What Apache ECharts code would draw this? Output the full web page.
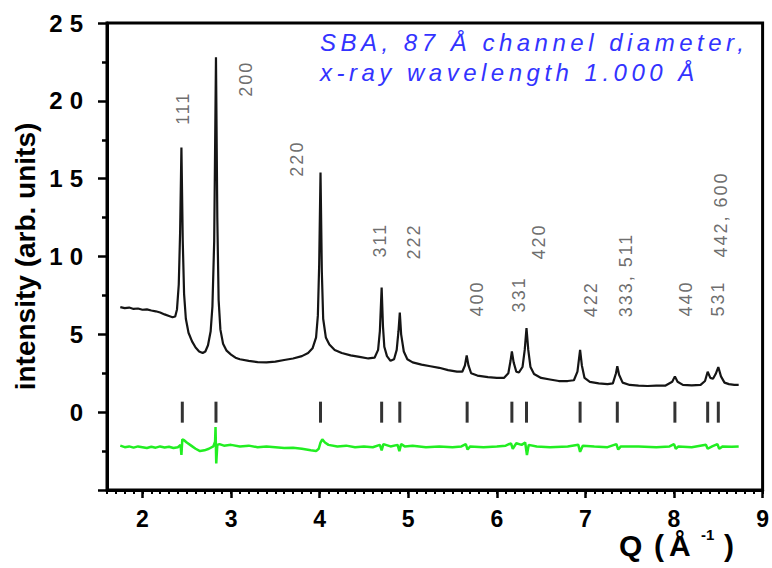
<!DOCTYPE html>
<html>
<head>
<meta charset="utf-8">
<script src="https://cdn.jsdelivr.net/npm/echarts@6/dist/echarts.min.js"></script>
<style>
    html, body { margin: 0; padding: 0; background: #fff; }
    #chart { width: 772px; height: 568px; }
    /* the original figure spreads its letters out, so do the same per text kind */
    #chart text[fill="#3333ff"] { letter-spacing: 4.5px; }
    #chart text[fill="#474747"] { letter-spacing: 2px; }
    #chart text[fill="#010101"] { letter-spacing: 7px; }
</style>
</head>
<body>
<div id="chart"></div>
<script>

    // observed pattern, Q (1/Å) and intensity
    var observed = [
        [1.75, 6.75], [1.80, 6.68], [1.85, 6.72], [1.90, 6.63], [1.95, 6.66], [2.00, 6.58],
        [2.05, 6.60], [2.10, 6.53], [2.15, 6.48], [2.20, 6.40], [2.25, 6.28], [2.30, 6.18],
        [2.34, 6.10], [2.37, 6.15], [2.39, 6.6], [2.41, 8.2], [2.425, 11.5], [2.44, 17.0],
        [2.455, 11.0], [2.47, 7.6], [2.49, 6.0], [2.52, 5.1], [2.56, 4.55], [2.60, 4.15],
        [2.64, 3.9], [2.68, 3.8], [2.71, 3.9], [2.74, 4.3], [2.77, 5.2], [2.79, 6.8],
        [2.81, 11.0], [2.83, 22.8], [2.845, 12.5], [2.86, 7.2], [2.88, 5.3], [2.91, 4.4],
        [2.95, 3.95], [3.00, 3.7], [3.05, 3.5], [3.10, 3.4], [3.20, 3.3], [3.30, 3.22],
        [3.40, 3.2], [3.50, 3.25], [3.60, 3.35], [3.70, 3.45], [3.80, 3.6], [3.87, 3.8],
        [3.92, 4.1], [3.96, 4.8], [3.98, 6.2], [3.995, 9.5], [4.01, 15.4], [4.025, 9.0],
        [4.04, 6.0], [4.07, 4.8], [4.11, 4.35], [4.17, 4.0], [4.25, 3.8], [4.35, 3.65],
        [4.45, 3.55], [4.55, 3.45], [4.62, 3.5], [4.66, 4.0], [4.68, 5.2], [4.70, 8.0],
        [4.715, 5.5], [4.73, 4.2], [4.76, 3.6], [4.80, 3.3], [4.84, 3.4], [4.87, 4.0],
        [4.89, 5.2], [4.905, 6.4], [4.92, 5.0], [4.95, 3.9], [4.99, 3.4], [5.05, 3.2],
        [5.15, 3.05], [5.25, 2.95], [5.35, 2.85], [5.45, 2.7], [5.55, 2.6], [5.61, 2.6],
        [5.64, 3.0], [5.66, 3.65], [5.68, 3.0], [5.71, 2.5], [5.78, 2.35], [5.90, 2.25],
        [6.00, 2.2], [6.08, 2.2], [6.13, 2.5], [6.155, 3.3], [6.17, 3.9], [6.19, 3.2],
        [6.22, 2.6], [6.25, 2.55], [6.29, 2.9], [6.315, 4.0], [6.335, 5.4], [6.355, 4.0],
        [6.38, 2.9], [6.42, 2.45], [6.50, 2.2], [6.60, 2.1], [6.70, 2.0], [6.80, 2.0],
        [6.87, 2.05], [6.91, 2.6], [6.94, 4.0], [6.96, 3.0], [6.99, 2.2], [7.05, 1.95],
        [7.15, 1.85], [7.25, 1.8], [7.31, 1.85], [7.345, 2.5], [7.36, 2.95], [7.38, 2.4],
        [7.42, 1.9], [7.50, 1.75], [7.60, 1.7], [7.70, 1.68], [7.80, 1.7], [7.90, 1.7],
        [7.98, 1.95], [8.01, 2.3], [8.04, 1.95], [8.10, 1.75], [8.20, 1.72], [8.30, 1.75],
        [8.35, 2.0], [8.38, 2.6], [8.41, 2.2], [8.44, 2.15], [8.47, 2.45], [8.50, 2.9],
        [8.53, 2.3], [8.57, 1.9], [8.62, 1.8], [8.68, 1.75], [8.73, 1.75]
    ];

    // observed minus fit, drawn offset below zero
    var difference = [
        [1.75, -2.15], [1.80, -2.25], [1.85, -2.2], [1.90, -2.28], [1.95, -2.2], [2.00, -2.25],
        [2.05, -2.3], [2.10, -2.22], [2.15, -2.28], [2.20, -2.2], [2.25, -2.27], [2.30, -2.22],
        [2.35, -2.3], [2.40, -2.25], [2.43, -2.1], [2.44, -2.75], [2.45, -1.75], [2.47, -1.8],
        [2.50, -1.95], [2.55, -2.15], [2.60, -2.35], [2.65, -2.5], [2.70, -2.45], [2.75, -2.35],
        [2.80, -2.2], [2.82, -1.9], [2.825, -0.95], [2.833, -3.3], [2.845, -2.1], [2.87, -2.05],
        [2.92, -2.15], [3.0, -2.1], [3.1, -2.2], [3.2, -2.15], [3.3, -2.25], [3.4, -2.2],
        [3.5, -2.25], [3.6, -2.3], [3.7, -2.28], [3.8, -2.35], [3.9, -2.45], [3.96, -2.5],
        [3.99, -2.35], [4.01, -1.95], [4.03, -1.75], [4.06, -1.95], [4.1, -2.1], [4.2, -2.2],
        [4.3, -2.15], [4.4, -2.25], [4.5, -2.2], [4.6, -2.25], [4.68, -2.1], [4.70, -2.45],
        [4.72, -2.05], [4.8, -2.2], [4.88, -2.1], [4.90, -2.5], [4.92, -2.05], [4.96, -2.2],
        [5.05, -2.15], [5.2, -2.25], [5.35, -2.2], [5.5, -2.25], [5.6, -2.2], [5.65, -2.05],
        [5.67, -2.4], [5.7, -2.2], [5.85, -2.25], [6.0, -2.2], [6.1, -2.15], [6.16, -2.0],
        [6.18, -2.35], [6.22, -2.0], [6.28, -2.1], [6.32, -1.95], [6.34, -2.75], [6.36, -2.1],
        [6.45, -2.2], [6.6, -2.25], [6.8, -2.2], [6.92, -2.1], [6.94, -2.55], [6.97, -2.15],
        [7.1, -2.2], [7.25, -2.25], [7.35, -2.05], [7.37, -2.4], [7.4, -2.2], [7.6, -2.2],
        [7.8, -2.25], [7.95, -2.2], [8.0, -2.05], [8.02, -2.35], [8.05, -2.2], [8.2, -2.25],
        [8.36, -2.1], [8.38, -2.35], [8.43, -2.2], [8.49, -2.05], [8.51, -2.35], [8.55, -2.2],
        [8.65, -2.22], [8.73, -2.2]
    ];

    // reflection positions (tick marks at y = 0)
    var reflectionQ = [2.45, 2.83, 4.01, 4.70, 4.905, 5.665, 6.17, 6.335, 6.94, 7.36, 8.01, 8.38, 8.50];

    // hkl labels and where their lower end sits
    var hklNames = ['111', '200', '220', '311', '222', '400', '331', '420', '422', '333, 511', '440', '531', '442, 600'];
    var hklQ = [2.46, 3.17, 3.74, 4.68, 5.07, 5.78, 6.25, 6.48, 7.06, 7.46, 8.13, 8.50, 8.53];
    var hklI = [18.46, 20.26, 15.13, 9.94, 9.81, 6.15, 6.41, 9.81, 6.09, 6.09, 6.15, 6.15, 9.94];

    var xMajorTicks = [2, 3, 4, 5, 6, 7, 8, 9];

    var fontFamily = 'Arial, "Liberation Sans", sans-serif';

    var chart = echarts.init(document.getElementById('chart'), null, { renderer: 'svg' });

    var option = {
        animation: false,
        backgroundColor: '#fff',
        grid: {
            left: 107, right: 8, top: 23, bottom: 78,
            show: true, borderColor: '#000', borderWidth: 3
        },
        // x axis name, placed like the original (below the right end)
        title: {
            left: 614,
            top: 522,
            text: '{q|Q}{p|(}{a|Å}{s|-1}{c|)}',
            textStyle: {
                rich: {
                    q: { fontSize: 30, fontWeight: 'bold', fontFamily: fontFamily, color: '#000', width: 35, lineHeight: 36 },
                    p: { fontSize: 30, fontWeight: 'bold', fontFamily: fontFamily, color: '#000', width: 15, lineHeight: 36 },
                    a: { fontSize: 30, fontWeight: 'bold', fontFamily: fontFamily, color: '#000', width: 32, lineHeight: 36 },
                    s: { fontSize: 15, fontWeight: 'bold', fontFamily: fontFamily, color: '#000', width: 23, verticalAlign: 'top', lineHeight: 36 },
                    c: { fontSize: 30, fontWeight: 'bold', fontFamily: fontFamily, color: '#000', lineHeight: 36 }
                }
            }
        },
        xAxis: [{
            type: 'value',
            min: 1.6,
            max: 9,
            axisLine: { show: true, onZero: false, lineStyle: { color: '#000', width: 3 } },
            axisTick: { show: true, customValues: xMajorTicks, length: 8, lineStyle: { color: '#000', width: 2.5 } },
            axisLabel: {
                customValues: xMajorTicks,
                fontSize: 23, fontWeight: 'bold', fontFamily: fontFamily, color: '#000', margin: 17
            },
            splitLine: { show: false }
        }, {
            type: 'value',
            min: 1.6,
            max: 9,
            interval: 0.1,
            position: 'bottom',
            axisLine: { show: false, onZero: false },
            axisTick: { show: true, length: 4, lineStyle: { color: '#000', width: 2 } },
            axisLabel: { show: false },
            splitLine: { show: false }
        }],
        yAxis: {
            type: 'value',
            min: -5,
            max: 25,
            interval: 5,
            name: 'intensity (arb. units)',
            nameLocation: 'middle',
            nameGap: 68,
            nameTextStyle: { fontSize: 28, fontWeight: 'bold', fontFamily: fontFamily, color: '#000' },
            axisLine: { show: true, lineStyle: { color: '#000', width: 3 } },
            axisTick: { show: true, length: 9, lineStyle: { color: '#000', width: 2.5 } },
            minorTick: { show: true, splitNumber: 2, length: 5, lineStyle: { color: '#000', width: 2.5 } },
            axisLabel: {
                fontSize: 24, fontWeight: 'bold', fontFamily: fontFamily, color: '#010101', margin: 17,
                formatter: function(v) {
                    return v < 0 ? '' : String(v);
                }
            },
            splitLine: { show: false },
            minorSplitLine: { show: false }
        },
        graphic: [{
            type: 'text',
            left: 320,
            top: 30,
            silent: true,
            style: { text: 'SBA, 87 Å channel diameter,', font: 'italic 24px ' + fontFamily, fill: '#3333ff' }
        }, {
            type: 'text',
            left: 320,
            top: 60,
            silent: true,
            style: { text: 'x-ray wavelength 1.000 Å', font: 'italic 24px ' + fontFamily, fill: '#3333ff' }
        }],
        series: [{
            type: 'line',
            data: observed,
            showSymbol: false,
            silent: true,
            lineStyle: { color: '#151515', width: 2.2 }
        }, {
            type: 'line',
            data: difference,
            showSymbol: false,
            silent: true,
            lineStyle: { color: '#22ee22', width: 2.5 }
        }, {
            type: 'scatter',
            data: reflectionQ.map(function(q) { return [q, 0]; }),
            symbol: 'rect',
            symbolSize: [3, 21],
            silent: true,
            itemStyle: { color: '#000' }
        }, {
            type: 'scatter',
            data: hklNames.map(function(n, i) {
                return { name: n, value: [hklQ[i], hklI[i]] };
            }),
            symbol: 'rect',
            symbolSize: 1,
            silent: true,
            itemStyle: { color: 'transparent' },
            label: {
                show: true,
                position: 'inside',
                rotate: 90,
                align: 'left',
                verticalAlign: 'middle',
                formatter: '{b}',
                fontSize: 18,
                fontFamily: fontFamily,
                color: '#474747'
            }
        }]
    };

    chart.setOption(option);

</script>
</body>
</html>
